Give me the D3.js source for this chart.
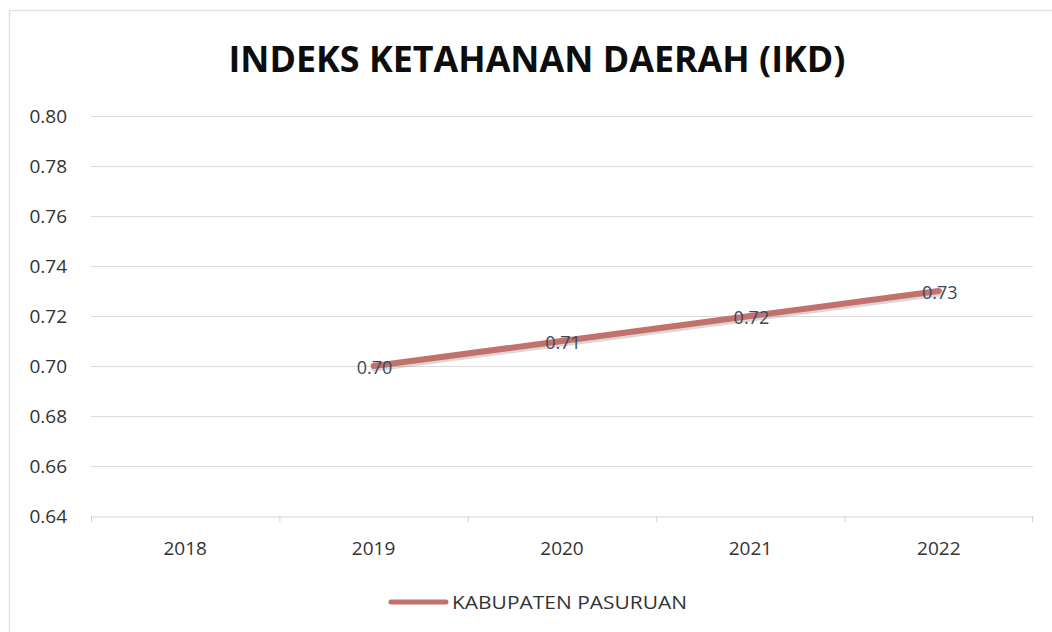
<!DOCTYPE html>
<html><head><meta charset="utf-8">
<script src="https://cdn.jsdelivr.net/npm/d3@7"></script>
<style>body{margin:0;background:#fff;}svg{display:block;}</style>
</head><body>
<svg id="c" width="1052" height="632"></svg>
<script>
const categories = ["2018","2019","2020","2021","2022"];
const seriesName = "KABUPATEN PASURUAN";
const values = [null, 0.70, 0.71, 0.72, 0.73];
const yTicks = [0.64,0.66,0.68,0.70,0.72,0.74,0.76,0.78,0.80];
const title = "INDEKS KETAHANAN DAERAH (IKD)";

const svg = d3.select("#c");
const font = "'Open Sans', sans-serif";
svg.append("rect").attr("x",9.5).attr("y",10.5).attr("width",1060).attr("height",640)
  .attr("fill","#fff").attr("stroke","#dce3ea").attr("stroke-width",1.5);

const x = d3.scaleBand().domain(categories).range([91,1033]);
const y = d3.scaleLinear().domain([0.64,0.80]).range([516,116]);

// gridlines
svg.append("g").selectAll("line").data(yTicks.slice(1)).join("line")
  .attr("x1",91).attr("x2",1033).attr("y1",d=>y(d)+0.5).attr("y2",d=>y(d)+0.5)
  .attr("stroke","#dcdcdc").attr("stroke-width",1);

// y axis labels
const ya = svg.append("g").attr("transform","translate(91,0)")
  .call(d3.axisLeft(y).tickValues(yTicks).tickFormat(d3.format(".2f")).tickSize(0).tickPadding(24));
ya.select(".domain").remove();
ya.selectAll("text").attr("font-family",font).attr("font-size",19).attr("fill","#333");

// x axis
const xa = svg.append("g").attr("transform","translate(0,516.5)")
  .call(d3.axisBottom(x).tickSize(0));
xa.select(".domain").attr("stroke","#d0d5dc");
xa.selectAll("text").attr("dy",null).attr("y",38.5).attr("font-family",font).attr("font-size",19).attr("fill","#333");
// band boundary ticks
svg.append("g").selectAll("line").data(categories.concat(["end"])).join("line")
  .attr("x1",(d,i)=>i<categories.length? x(d)+0.5 : x.range()[1]-0.5)
  .attr("x2",(d,i)=>i<categories.length? x(d)+0.5 : x.range()[1]-0.5)
  .attr("y1",516).attr("y2",522).attr("stroke","#d0d5dc");

// line
const pts = categories.map((c,i)=>({c,v:values[i]})).filter(d=>d.v!=null);
const line = d3.line().x(d=>x(d.c)+x.bandwidth()/2).y(d=>y(d.v));
svg.append("path").datum(pts).attr("d",line).attr("fill","none")
  .attr("stroke","#8a7a7a").attr("stroke-opacity",0.3).attr("stroke-width",7)
  .attr("transform","translate(1,2)").attr("stroke-linecap","round");
svg.append("path").datum(pts).attr("d",line).attr("fill","none")
  .attr("stroke","#c2716d").attr("stroke-width",6).attr("stroke-linecap","round");

// data labels
svg.append("g").selectAll("text").data(pts).join("text")
  .attr("x",d=>x(d.c)+x.bandwidth()/2+1).attr("y",d=>y(d.v)+8)
  .attr("text-anchor","middle").attr("font-family",font).attr("font-size",18)
  .attr("fill","#3d4860").text(d=>d.v.toFixed(2));

// title
svg.append("text").attr("x",537).attr("y",72).attr("text-anchor","middle")
  .attr("font-family",font).attr("font-weight","bold").attr("font-size",35)
  .attr("fill","#0d0d0d").attr("textLength",617).attr("lengthAdjust","spacingAndGlyphs").text(title);

// legend
svg.append("line").attr("x1",391).attr("x2",446).attr("y1",602).attr("y2",602)
  .attr("stroke","#c2716d").attr("stroke-width",5).attr("stroke-linecap","round");
svg.append("text").attr("x",452).attr("y",609).attr("font-family",font).attr("font-size",18)
  .attr("fill","#333").attr("textLength",235).attr("lengthAdjust","spacingAndGlyphs").text(seriesName);
</script>
</body></html>
